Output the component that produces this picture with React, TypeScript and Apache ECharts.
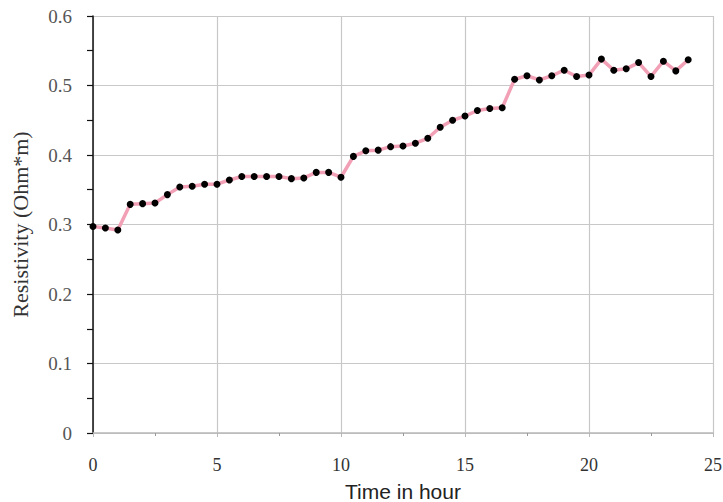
import React, { useEffect, useRef } from "react";
import * as echarts from "echarts";

const hours: number[] = [
  0, 0.5, 1, 1.5, 2, 2.5, 3, 3.5, 4, 4.5, 5, 5.5, 6, 6.5, 7, 7.5, 8, 8.5, 9, 9.5,
  10, 10.5, 11, 11.5, 12, 12.5, 13, 13.5, 14, 14.5, 15, 15.5, 16, 16.5, 17, 17.5,
  18, 18.5, 19, 19.5, 20, 20.5, 21, 21.5, 22, 22.5, 23, 23.5, 24,
];

const resistivity: number[] = [
  0.297, 0.295, 0.292, 0.329, 0.33, 0.331, 0.343, 0.354, 0.355, 0.358, 0.358,
  0.364, 0.369, 0.369, 0.369, 0.369, 0.366, 0.367, 0.375, 0.375, 0.368, 0.398,
  0.406, 0.407, 0.412, 0.413, 0.417, 0.424, 0.44, 0.45, 0.456, 0.464, 0.467,
  0.468, 0.509, 0.514, 0.508, 0.514, 0.522, 0.513, 0.515, 0.538, 0.522, 0.524,
  0.533, 0.513, 0.535, 0.521, 0.537,
];

const xTitle = "Time in hour";
const yTitle = "Resistivity (Ohm*m)";

export default function App() {
  const ref = useRef<HTMLDivElement>(null);
  useEffect(() => {
    if (!ref.current) return;
    const chart = echarts.init(ref.current, undefined, { renderer: "svg" });
    chart.setOption({
      animation: false,
      backgroundColor: "#ffffff",
      grid: { left: 93, right: 10, top: 16, bottom: 69, outerBoundsMode: "none", containLabel: false },
      xAxis: {
        type: "value",
        min: 0,
        max: 25,
        interval: 5,
        name: xTitle,
        nameLocation: "middle",
        nameGap: 48,
        nameTextStyle: { fontFamily: "Liberation Sans", fontSize: 21, color: "#222" },
        axisLine: { show: true, lineStyle: { color: "#b8b8b8", width: 1.5 } },
        axisTick: { show: true, length: 4, lineStyle: { color: "#b8b8b8" } },
        minorTick: { show: true, splitNumber: 2, length: 3, lineStyle: { color: "#999" } },
        axisLabel: { fontFamily: "Liberation Serif", fontSize: 18, color: "#333", margin: 23 },
        splitLine: { show: true, lineStyle: { color: "#c8c8c8", width: 1.2 } },
      },
      yAxis: {
        type: "value",
        min: 0,
        max: 0.6,
        interval: 0.1,
        name: yTitle,
        nameLocation: "middle",
        nameGap: 62,
        nameTextStyle: { fontFamily: "Liberation Serif", fontSize: 22, color: "#333" },
        axisLine: { show: true, lineStyle: { color: "#111", width: 1.5 } },
        axisTick: { show: true, inside: false, length: 6, lineStyle: { color: "#111", width: 1.2 } },
        minorTick: { show: true, splitNumber: 2, length: 6, lineStyle: { color: "#111", width: 1.2 } },
        axisLabel: {
          fontFamily: "Liberation Serif",
          fontSize: 19,
          color: "#555",
          margin: 21,
          formatter: (v: number) => (v === 0 ? "0" : String(Math.round(v * 10) / 10)),
        },
        splitLine: { show: true, lineStyle: { color: "#c8c8c8", width: 1.2 } },
      },
      series: [
        {
          type: "line",
          data: hours.map((h, i) => [h, resistivity[i]]),
          symbol: "circle",
          symbolSize: 7,
          itemStyle: { color: "#000" },
          lineStyle: { color: "#f2a0b6", width: 3.5 },
          z: 3,
        },
      ],
    });
    return () => chart.dispose();
  }, []);
  return <div ref={ref} style={{ width: 723, height: 502, position: "absolute", left: 0, top: 0 }} />;
}
